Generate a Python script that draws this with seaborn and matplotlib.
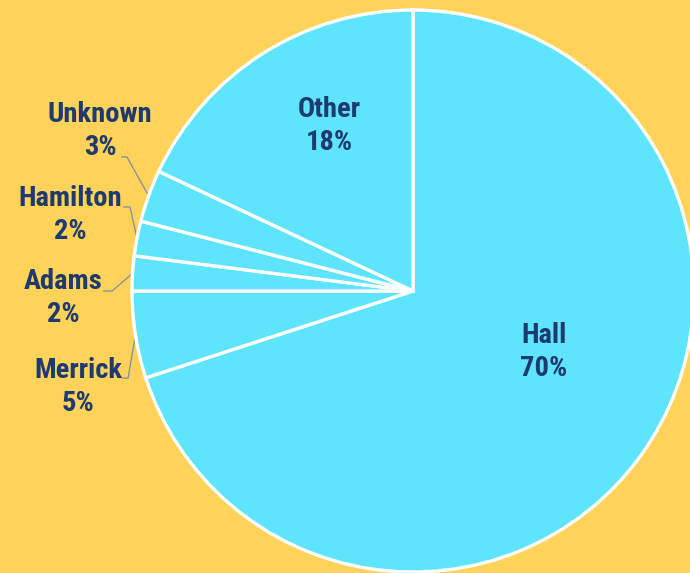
import numpy as np
import matplotlib
matplotlib.use("Agg")
import matplotlib.pyplot as plt
import seaborn as sns
from matplotlib import font_manager

# Share of records by source
labels = ["Hall", "Merrick", "Adams", "Hamilton", "Unknown", "Other"]
shares = [70, 5, 2, 2, 3, 18]

sns.set_theme(style="white")
bold_families = {f.name for f in font_manager.fontManager.ttflist
                 if isinstance(f.weight, int) and f.weight >= 700 or f.weight == "bold"}
candidates = ["Roboto Condensed", "Fira Sans Condensed", "Barlow Semi Condensed",
              "Archivo Narrow", "Roboto"]
family = [f for f in candidates if f in bold_families][:1] + ["DejaVu Sans"]
plt.rcParams["font.family"] = family

BG = "#FFD35A"
SLICE = "#5EE5FD"
INK = "#1E3A6E"
LEADER = "#7F8DA3"

fig = plt.figure(figsize=(6.9, 5.73), dpi=100, facecolor=BG)
ax = fig.add_axes([0, 0, 1, 1])
ax.set_facecolor(BG)

wedges, _ = ax.pie(
    shares,
    colors=[SLICE] * len(shares),
    startangle=90,
    counterclock=False,
    radius=1.0,
    wedgeprops=dict(edgecolor="white", linewidth=2.4),
)

# Scale: pie radius = 281 px, centre at (413, 291) px from top-left
R = 281.0
ax.set_xlim(-413 / R, (690 - 413) / R)
ax.set_ylim(-(573 - 291) / R, 291 / R)
ax.set_aspect("auto")
ax.axis("off")

text_kw = dict(color=INK, fontsize=20.5, fontweight="bold",
               ha="center", va="center", linespacing=1.3)

# Labels inside the large wedges
inside = {"Hall": (0.466, -0.217), "Other": (-0.299, 0.587)}
# Labels outside the thin wedges: text centre, then leader elbow and end
outside = {
    "Unknown": ((-1.114, 0.569), (-1.018, 0.477), (-1.039, 0.477)),
    "Hamilton": ((-1.221, 0.270), (-1.007, 0.299), (-1.032, 0.299)),
    "Adams": ((-1.246, -0.025), (-1.071, 0.000), (-1.103, 0.000)),
    "Merrick": ((-1.192, -0.342), (-1.014, -0.310), (-1.036, -0.310)),
}

for w, name, val in zip(wedges, labels, shares):
    txt = f"{name}\n{val}%"
    if name in inside:
        ax.text(*inside[name], txt, **text_kw)
    else:
        pos, elbow, end = outside[name]
        mid = np.deg2rad((w.theta1 + w.theta2) / 2)
        edge = (np.cos(mid) * w.r, np.sin(mid) * w.r)
        ax.plot([edge[0], elbow[0], end[0]], [edge[1], elbow[1], end[1]],
                color=LEADER, lw=0.9, solid_capstyle="butt", zorder=0.5)
        ax.text(*pos, txt, **text_kw)

fig.savefig("out.png", dpi=100, facecolor=BG)
